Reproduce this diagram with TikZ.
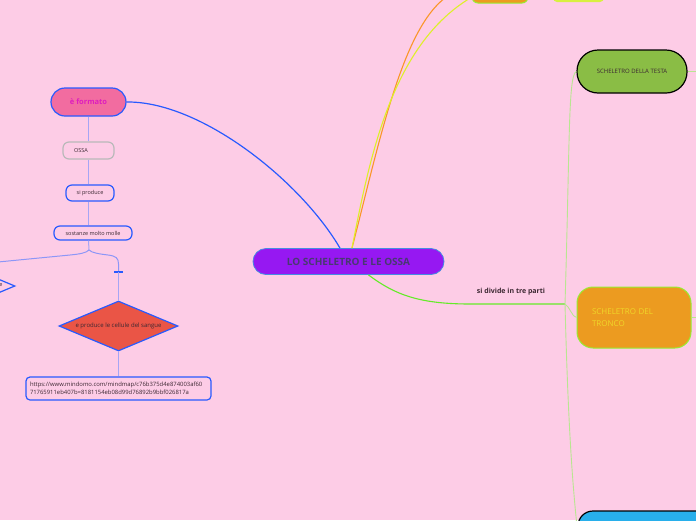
\documentclass[tikz,border=0pt]{standalone}
\usepackage{fontspec}
\setmainfont{Open Sans}
\usetikzlibrary{positioning,shapes.geometric,calc}
\definecolor{bgpink}{RGB}{253,204,230}
\definecolor{rootviolet}{RGB}{150,24,242}
\definecolor{rootedge}{RGB}{70,140,225}
\definecolor{roottext}{RGB}{72,58,112}
\definecolor{linkblue}{RGB}{40,90,255}
\definecolor{formpink}{RGB}{242,108,160}
\definecolor{formtext}{RGB}{222,30,190}
\definecolor{lavline}{RGB}{165,165,245}
\definecolor{ossagray}{RGB}{185,185,185}
\definecolor{bloodred}{RGB}{234,85,70}
\definecolor{headgreen}{RGB}{138,189,69}
\definecolor{trunkorange}{RGB}{236,155,32}
\definecolor{trunkedge}{RGB}{150,238,50}
\definecolor{trunktext}{RGB}{240,215,40}
\definecolor{splitgreen}{RGB}{100,235,40}
\definecolor{palegreen}{RGB}{185,230,145}
\definecolor{topline}{RGB}{250,150,40}
\definecolor{limeline}{RGB}{222,240,40}
\definecolor{limefill}{RGB}{216,240,64}
\definecolor{limbblue}{RGB}{40,175,235}
\definecolor{inktext}{RGB}{60,40,50}

\begin{document}
\begin{tikzpicture}[x=1pt, y=-1pt, font=\fontsize{5.5}{7}\selectfont,
  pill/.style={draw=linkblue, line width=1.2pt, fill=bgpink, rectangle, rounded corners=6pt, inner sep=0pt, text=inktext},
  part/.style={rectangle, inner sep=0pt, text=inktext},
  rhomb/.style={diamond, draw=linkblue, line width=1.2pt, fill=bloodred, aspect=2.38, inner sep=0pt, minimum width=119pt, minimum height=50pt, text=inktext}]
  % ---- page ----
  \useasboundingbox (0,0) rectangle (696,520);
  \fill[bgpink] (0,0) rectangle (696,520);
  \clip (0,0) rectangle (696,520);
  % ---- root ----
  \node[rectangle, draw=rootedge, line width=0.8pt, fill=rootviolet, rounded corners=13pt, minimum width=191pt, minimum height=26pt, text=roottext, font=\fontsize{10}{12}\selectfont\bfseries] (root) at (348.5,261.5) {LO SCHELETRO E LE OSSA};
  % ---- left branch ----
  \node[pill, fill=formpink, rounded corners=14pt, minimum width=75pt, minimum height=28pt, text=formtext, font=\fontsize{7.5}{9}\selectfont\bfseries] (eform) at (88.5,102) {è formato};
  \node[pill, draw=ossagray, minimum width=51pt, minimum height=17pt, text width=29pt, inner xsep=11pt, align=left] (ossa) at (88.5,150.5) {OSSA};
  \node[pill, minimum width=48pt, minimum height=16pt] (sipro) at (90,193) {si produce};
  \node[pill, minimum width=78pt, minimum height=14pt] (sost) at (93,233) {sostanze molto molle};
  \node[rhomb, font=\fontsize{6}{7}\selectfont] (blood) at (118.5,326) {e produce le cellule del sangue};
  \node[rhomb, fill=bgpink] (leftrhomb) at (-44.5,286) {};
  \node[part] (lefte) at (1,285.5) {e};
  \node[pill, rounded corners=4pt, minimum width=185pt, minimum height=23pt, text width=177pt, align=left, font=\fontsize{5.9}{8.5}\selectfont] (url) at (118.5,388.5) {https://www.mindomo.com/mindmap/c76b375d4e874003af60\\71765911eb407b=8181154eb08d99d76892b9bbf026817a};
  \draw[linkblue, line width=1.2pt] (eform.east) .. controls (200,101) and (300,180) .. ($(root.north)+(-8.5,0)$);
  \draw[lavline, line width=1pt] (eform.south) -- (ossa.north);
  \draw[lavline, line width=1pt] (ossa.south) -- (ossa.south |- sipro.north);
  \draw[lavline, line width=1pt] (ossa.south |- sipro.south) -- (ossa.south |- sost.north);
  \coordinate (fork) at (89,250);
  \coordinate (forkleft) at (-2,262);
  \coordinate (bar) at (118.5,272);
  \draw[lavline, line width=1pt] (ossa.south |- sost.south) -- (fork);
  \draw[lavline!80!linkblue, line width=1pt] (fork) .. controls (86,253) and (80,254) .. (70,255) -- (forkleft);
  \draw[lavline!80!linkblue, line width=1pt] (fork) .. controls (92,253) and (100,254) .. (108,255) .. controls (116,256) and (118.5,258) .. (118.5,264) -- (bar);
  \draw[linkblue, line width=1.6pt] ($(bar)+(-4.5,0)$) -- ($(bar)+(4.5,0)$);
  \draw[lavline, line width=1pt] (bar) -- (blood.north);
  \draw[lavline, line width=1pt] (blood.south) -- (url.north);
  % ---- top branches ----
  \node[rectangle, draw=trunkedge, line width=1pt, fill=trunkorange, rounded corners=6pt, minimum width=56pt, minimum height=30pt] (topone) at (500,-12) {};
  \node[rectangle, fill=limefill, rounded corners=4pt, minimum width=51pt, minimum height=24pt] (toptwo) at (578.5,-10) {};
  \draw[topline, line width=1.1pt] ($(root.north)+(3.5,0)$) .. controls (385,120) and (410,-10) .. (topone.west);
  \draw[limeline, line width=1.1pt] ($(root.north)+(3.5,0)$) .. controls (375,130) and (405,-20) .. ($(toptwo.west)+(0,-15)$);
  % ---- right branch ----
  \node[rectangle, draw=black, line width=1.2pt, fill=headgreen, rounded corners=21pt, minimum width=110pt, minimum height=43pt, text=inktext, font=\fontsize{6}{7}\selectfont] (head) at (632,71.5) {SCHELETRO DELLA TESTA};
  \node[rectangle, draw=trunkedge, line width=1pt, fill=trunkorange, rounded corners=16pt, minimum width=114pt, minimum height=61pt, text width=84pt, inner xsep=15pt, align=left, text=trunktext, font=\fontsize{8}{11.5}\selectfont] (trunk) at (634,317.5) {SCHELETRO DEL\\TRONCO};
  \node[rectangle, draw=black, line width=1.2pt, fill=limbblue, rounded corners=15pt, minimum width=164pt, minimum height=48pt] (limbs) at (660,535) {};
  \coordinate (split) at (565,304);
  \draw[splitgreen, line width=1.1pt] ($(root.south)+(20,0)$) .. controls (395,295) and (420,304) .. (470,304) -- (split);
  \node[part, font=\fontsize{7}{8}\selectfont\bfseries] (divide) at (511,292) {si divide in tre parti};
  \draw[palegreen, line width=0.9pt] (split) .. controls (570,140) and (568,75) .. (head.west);
  \draw[palegreen, line width=0.9pt] (split) .. controls (570,307) and (572,317) .. (trunk.west);
  \draw[palegreen, line width=0.9pt] (split) .. controls (568,420) and (572,480) .. (limbs.west |- 0,530);
  \draw[palegreen, line width=0.9pt] (head.east) -- ++(12,0);
  \draw[palegreen, line width=0.9pt] (trunk.east) -- ++(8,0);
\end{tikzpicture}
\end{document}
